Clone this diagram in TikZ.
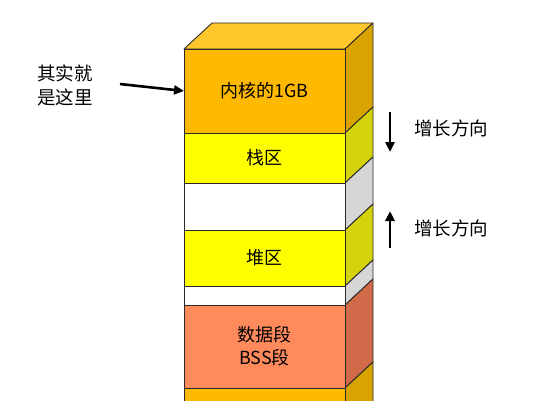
\documentclass[tikz,border=0pt]{standalone}
\usepackage{fontspec}
\setmainfont{Noto Sans CJK SC}
\usetikzlibrary{arrows.meta}
\definecolor{kfront}{HTML}{FFB900}
\definecolor{ktop}{HTML}{FFC72C}
\definecolor{kside}{HTML}{D9A300}
\definecolor{yfront}{HTML}{FFFF00}
\definecolor{yside}{HTML}{D4D20A}
\definecolor{gside}{HTML}{D6D6D6}
\definecolor{dfront}{HTML}{FF8A5C}
\definecolor{dside}{HTML}{D06A48}
\definecolor{edge}{HTML}{2A2A2A}
\begin{document}
\begin{tikzpicture}[x=1pt,y=-1pt,
  band/.style={draw=edge,line width=0.9pt,minimum width=161pt,inner sep=0pt,outer sep=0pt,
    font=\fontsize{18}{23}\selectfont,align=center},
  face/.style={draw=edge,line width=0.9pt,line join=round},
  arr/.style={line width=2.6pt,-{Triangle[length=10pt,width=9pt]}},
  lbl/.style={font=\fontsize{18.5}{24}\selectfont,inner sep=0pt,align=left}]
\useasboundingbox (0,0) rectangle (556,400);
\clip (0,0) rectangle (556,400);
% top face
\draw[face,fill=ktop] (184,49) -- (212,23) -- (373,23) -- (345,49) -- cycle;
% side faces
\draw[face,fill=kside] (345,49) -- (373,23) -- (373,107) -- (345,133) -- cycle;
\draw[face,fill=yside] (345,133) -- (373,107) -- (373,157) -- (345,183) -- cycle;
\draw[face,fill=gside] (345,183) -- (373,157) -- (373,204) -- (345,230) -- cycle;
\draw[face,fill=yside] (345,230) -- (373,204) -- (373,260) -- (345,286) -- cycle;
\draw[face,fill=gside] (345,286) -- (373,260) -- (373,279) -- (345,305) -- cycle;
\draw[face,fill=dside] (345,305) -- (373,279) -- (373,362) -- (345,388) -- cycle;
\draw[face,fill=kside] (345,388) -- (373,362) -- (373,440) -- (345,440) -- cycle;
% front faces
\node[band,fill=kfront,minimum height=84pt] (kernel) at (264.5,91) {内核的1GB};
\node[band,fill=yfront,minimum height=50pt] (stack) at (264.5,158) {栈区};
\node[band,fill=white,minimum height=47pt] (gap1) at (264.5,206.5) {};
\node[band,fill=yfront,minimum height=56pt] (heap) at (264.5,258) {堆区};
\node[band,fill=white,minimum height=19pt] (gap2) at (264.5,295.5) {};
\node[band,fill=dfront,minimum height=83pt] (data) at (264.5,346.5) {数据段\\BSS段};
\node[band,fill=kfront,minimum height=50pt] (bottom) at (264.5,413) {};
% left note
\node[lbl] (note) at (65,85) {其实就\\是这里};
\coordinate (astart) at (120,84);
\draw[arr] (astart) -- (kernel.west);
% growth directions
\coordinate (d1) at (390,112);
\coordinate (d2) at (390,152);
\draw[arr] (d1) -- (d2);
\coordinate (u1) at (390,248);
\coordinate (u2) at (390,211);
\draw[arr] (u1) -- (u2);
\node[lbl,anchor=west] (g1) at (414,128) {增长方向};
\node[lbl,anchor=west] (g2) at (414,228) {增长方向};
\end{tikzpicture}
\end{document}
